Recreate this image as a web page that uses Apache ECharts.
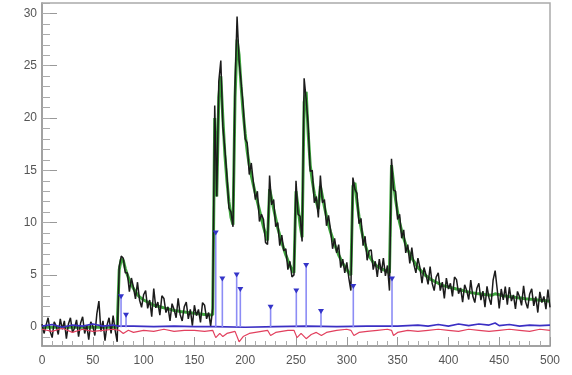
<!DOCTYPE html>
<html>
<head>
<meta charset="utf-8">
<script src="https://cdn.jsdelivr.net/npm/echarts@6/dist/echarts.min.js"></script>
<style>html,body{margin:0;padding:0;background:#fff;}#c{width:572px;height:375px;}</style>
</head>
<body>
<div id="c"></div>
<script>
// Histogram bins: centres from 0 to 500, width 2
const binStart = 0;
const binWidth = 2;

// Measured counts (black), one per bin
const dataValues = [
  0.3,-0.6,0.2,0.9,-0.4,-1.0,0.5,0.1,-0.7,0.8,           // 0-18
  -0.2,0.6,-1.1,0.3,0.9,-0.5,-0.1,0.7,-0.9,0.4,          // 20-38
  1.0,-0.6,0.2,-1.2,0.5,0.1,-0.8,1.3,2.5,-0.4,           // 40-58
  0.6,-1.3,0.2,0.9,-0.6,1.1,-0.3,-1.4,5.8,6.8,           // 60-78
  6.6,5.2,5.2,3.4,4.7,3.8,2.7,4.3,2.6,1.9,               // 80-98
  3.1,3.5,1.8,2.6,1.0,3.7,1.85,2.4,1.15,3.0,             // 100-118
  2.75,1.4,1.95,0.6,2.25,1.7,0.9,2.75,1.2,0.6,           // 120-138
  1.95,2.4,0.8,1.7,0.15,2.1,1.1,1.7,0.45,2.35,           // 140-158
  2.1,0.8,1.4,0.1,1.8,21.2,12.5,23.5,25.5,19.2,          // 160-178
  17.0,14.5,11.4,11.0,9.6,23.2,29.7,25.5,23.4,21.2,      // 180-198
  18.0,17.6,14.6,15.7,13.9,12.2,13.0,10.1,10.8,10.3,     // 200-218
  8.1,7.9,14.5,11.7,12.2,9.6,10.0,7.8,8.8,7.3,           // 220-238
  7.5,5.5,6.3,4.8,5.0,14.0,10.8,10.6,8.2,23.8,           // 240-258
  21.8,19.3,14.9,15.0,11.9,12.5,10.5,14.5,11.9,12.2,     // 260-278
  9.7,10.7,9.3,7.5,8.5,7.1,7.9,5.7,6.5,5.2,              // 280-298
  6.2,4.7,3.5,14.3,13.2,12.8,9.9,10.4,7.8,8.7,           // 300-318
  6.4,7.3,7.4,5.5,6.3,4.8,6.5,5.2,6.6,4.9,               // 320-338
  5.9,3.5,16.1,13.1,13.0,10.3,10.8,8.5,9.3,7.1,          // 340-358
  7.9,6.1,7.6,6.0,5.2,6.6,5.7,4.2,5.7,5.0,               // 360-378
  4.1,5.8,4.2,3.5,4.8,5.2,3.5,4.3,2.75,4.7,              // 380-398
  3.65,4.2,2.95,4.8,4.55,3.2,3.75,2.4,4.05,3.5,          // 400-418
  2.65,4.5,2.98,2.35,3.72,4.2,2.58,3.45,1.92,3.9,        // 420-438
  2.78,2.15,4.5,5.4,3.65,1.8,3.65,2.6,3.88,2.15,         // 440-458
  3.82,2.5,3.08,1.75,3.42,2.9,2.08,3.95,2.42,1.8,        // 460-478
  3.18,3.66,2.04,2.92,1.4,3.38,2.36,2.94,1.72,3.6,       // 480-498
  1.9                                                    // 500
];

// Fit curve (green), one per bin
const fitValues = [
  0,0,0,0,0,0,0,0,0,0,                               // 0-18
  0,0,0,0,0,0,0,0,0,0,                               // 20-38
  0,0,0,0,0,0,0,0,0,0,                               // 40-58
  0,0,0,0,0,0,0,0,5.5,6.5,                           // 60-78
  6.4,5.6,5.0,4.5,4.1,3.7,3.4,3.1,2.9,2.75,          // 80-98
  2.6,2.5,2.4,2.3,2.2,2.1,2.05,2.0,1.95,1.9,         // 100-118
  1.85,1.8,1.75,1.7,1.65,1.6,1.58,1.55,1.5,1.48,     // 120-138
  1.45,1.42,1.4,1.38,1.35,1.32,1.3,1.28,1.26,1.24,   // 140-158
  1.22,1.2,1.18,1.16,1.2,20,12.5,22,24,20,           // 160-178
  16.5,14,12,10.5,9.8,22,27.5,26,23,20.5,            // 180-198
  18.5,16.8,15.5,14.5,13.6,12.8,12,11.2,10.4,9.6,    // 200-218
  8.9,8.3,13.2,12.3,11.3,10.4,9.5,8.8,8.1,7.5,       // 220-238
  6.9,6.4,5.9,5.5,5.2,13,11.5,9.8,8.6,21.5,          // 240-258
  22.5,18.5,15.5,14,12.8,12,11.3,13.5,12.5,11.5,     // 260-278
  10.6,9.8,9.1,8.5,7.9,7.4,6.9,6.5,6.1,5.8,          // 280-298
  5.5,5.2,5.0,13.5,13.8,12,10.6,9.5,8.6,7.9,         // 300-318
  7.3,6.8,6.5,6.2,6.0,5.8,5.7,5.6,5.5,5.4,           // 320-338
  5.3,5.2,15.5,13.8,12.2,11,10,9.2,8.5,7.9,          // 340-358
  7.4,7,6.6,6.3,6,5.7,5.5,5.3,5.1,4.9,               // 360-378
  4.8,4.6,4.5,4.4,4.3,4.2,4.1,4.0,3.95,3.9,          // 380-398
  3.85,3.8,3.75,3.7,3.65,3.6,3.55,3.5,3.45,3.4,      // 400-418
  3.35,3.3,3.28,3.25,3.22,3.2,3.18,3.15,3.12,3.1,    // 420-438
  3.08,3.05,3.1,3.2,3.15,3.1,3.05,3.0,2.98,2.95,     // 440-458
  2.92,2.9,2.88,2.85,2.82,2.8,2.78,2.75,2.72,2.7,    // 460-478
  2.68,2.66,2.64,2.62,2.6,2.58,2.56,2.54,2.52,2.5,   // 480-498
  2.48                                               // 500
];

// Found peaks (blue stems with triangle markers)
const peakX = [77.8, 82.7, 171, 177.5, 191.6, 195.2, 225, 250.3, 260, 274.6, 306.4, 344.5];
const peakH = [2.9, 1.15, 9.0, 4.6, 5.0, 3.6, 1.9, 3.45, 5.9, 1.5, 3.9, 4.6];

// Background / baseline (blue line)
const baseX = [0,10,20,30,40,50,60,70,75,90,110,130,150,170,200,230,260,290,320,350,370,380,390,400,410,420,430,440,446,450,460,470,480,490,500];
const baseY = [0.1,0.25,0.0,0.2,0.1,0.3,0.1,0.2,0.1,0.1,0.05,0.1,0.05,0.05,0.0,0.05,0.1,0.05,0.1,0.1,0.2,0.1,0.25,0.1,0.3,0.15,0.3,0.2,0.4,0.15,0.25,0.1,0.2,0.15,0.2];

// Residual (red line)
const resX = [0,10,20,30,40,50,60,70,76,80,85,90,100,110,120,130,140,150,160,168,171,175,178,182,186,190,194,198,204,210,216,222,225,230,236,242,248,251,255,260,265,270,275,280,290,300,304,307,312,320,330,340,344,346,350,360,370,380,390,400,410,420,430,440,450,460,470,480,490,500];
const resY = [-0.2,-0.4,-0.1,-0.5,-0.2,-0.4,-0.3,-0.2,-0.3,-0.6,-0.3,-0.5,-0.3,-0.4,-0.2,-0.4,-0.3,-0.3,-0.4,-0.3,-1.0,-0.6,-0.9,-0.6,-0.5,-0.4,-1.4,-0.9,-0.6,-0.5,-0.4,-0.3,-0.8,-0.5,-0.4,-0.3,-0.3,-1.0,-0.6,-1.1,-0.7,-0.5,-0.8,-0.5,-0.3,-0.2,-0.3,-0.8,-0.5,-0.4,-0.3,-0.2,-0.3,-0.8,-0.5,-0.3,-0.4,-0.3,-0.2,-0.3,-0.4,-0.2,-0.3,-0.4,-0.3,-0.2,-0.3,-0.4,-0.2,-0.3];

// Axis ticks
const yMajorTicks = [0,5,10,15,20,25,30];
const yMinorTicks = [-1,0,1,2,3,4,5,6,7,8,9,10,11,12,13,14,15,16,17,18,19,20,21,22,23,24,25,26,27,28,29,30,31];

const dataPts = dataValues.map((v,i)=>[binStart+i*binWidth, v]);
const fitPts = fitValues.map((v,i)=>[binStart+i*binWidth, v]);
const peakPts = peakX.map((x,i)=>[x, peakH[i]]);
const basePts = baseX.map((x,i)=>[x, baseY[i]]);
const resPts = resX.map((x,i)=>[x, resY[i]]);

const FONT = "'Liberation Sans Narrow','Liberation Sans',Arial,sans-serif";
const YMIN = -1.8, YMAX = 31;

const chart = echarts.init(document.getElementById('c'), null, {renderer:'canvas'});
chart.setOption({
  animation: false,
  backgroundColor: '#ffffff',
  grid: {left: 42, right: 22, top: 3, bottom: 29, show: true, borderColor: '#aaaaaa', borderWidth: 1.5, backgroundColor: '#ffffff'},
  xAxis: {
    type: 'value', min: 0, max: 500, interval: 50,
    axisLine: {show: true, onZero: false, lineStyle: {color: '#999999', width: 1.5}},
    axisTick: {show: true, inside: true, length: 9, lineStyle: {color: '#999999', width: 1}},
    minorTick: {show: true, splitNumber: 5, length: 5, lineStyle: {color: '#aaaaaa', width: 1}},
    axisLabel: {color: '#555555', fontFamily: FONT, fontSize: 12, margin: 9},
    splitLine: {show: false}
  },
  yAxis: [
    {
      type: 'value', min: YMIN, max: YMAX,
      axisLine: {show: true, lineStyle: {color: '#999999', width: 1.5}},
      axisTick: {show: true, inside: true, length: 15, customValues: yMajorTicks, lineStyle: {color: '#999999', width: 1}},
      axisLabel: {color: '#555555', fontFamily: FONT, fontSize: 12, margin: 5, customValues: yMajorTicks},
      splitLine: {show: false}
    },
    {
      type: 'value', min: YMIN, max: YMAX, position: 'left',
      axisLine: {show: false},
      axisTick: {show: true, inside: true, length: 8, customValues: yMinorTicks, lineStyle: {color: '#aaaaaa', width: 1}},
      axisLabel: {show: false},
      splitLine: {show: false}
    }
  ],
  series: [
    {
      type: 'line', name: 'fit', data: fitPts, showSymbol: false, symbol: 'none',
      lineStyle: {color: '#3da53d', width: 3}, z: 2
    },
    {
      type: 'line', name: 'data', data: dataPts, showSymbol: false, symbol: 'none',
      lineStyle: {color: '#1b1b1b', width: 1.5}, z: 3
    },
    {
      type: 'line', name: 'residual', data: resPts, showSymbol: false, symbol: 'none',
      lineStyle: {color: '#e2405e', width: 1.2}, z: 4
    },
    {
      type: 'line', name: 'baseline', data: basePts, showSymbol: false, symbol: 'none',
      lineStyle: {color: '#3b2fc4', width: 1.6}, z: 5
    },
    {
      type: 'custom', name: 'peaks', data: peakPts, z: 6,
      renderItem: function(params, api){
        const x = api.value(0), h = api.value(1);
        const p0 = api.coord([x, 0]);
        const p1 = api.coord([x, h]);
        return {type: 'group', children: [
          {type: 'line', shape: {x1: p0[0], y1: p0[1], x2: p1[0], y2: p1[1]}, style: {stroke: '#8c8cf5', lineWidth: 1.6}},
          {type: 'polygon', shape: {points: [[p1[0]-3, p1[1]-2.5], [p1[0]+3, p1[1]-2.5], [p1[0], p1[1]+2.5]]}, style: {fill: '#3434c8'}}
        ]};
      }
    }
  ]
});
</script>
</body>
</html>
